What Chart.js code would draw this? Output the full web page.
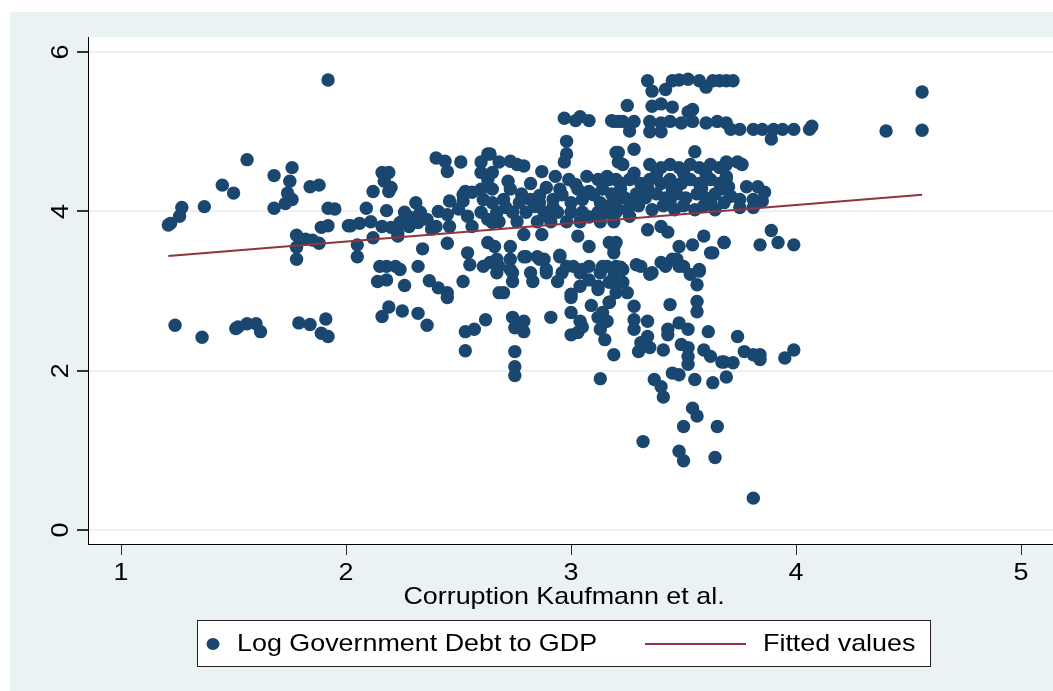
<!DOCTYPE html>
<html>
<head>
<meta charset="utf-8">
<script src="https://cdn.jsdelivr.net/npm/chart.js@4.4.1/dist/chart.umd.min.js"></script>
<style>
  html, body { margin: 0; padding: 0; background: #ffffff; }
  #wrap { width: 1053px; height: 691px; position: relative; }
</style>
</head>
<body>
<div id="wrap"><canvas id="c" width="1053" height="691"></canvas></div>
<script>
// Corruption score (Kaufmann et al.) for each country-year observation
const corruption = [
  1.92,1.56,1.76,1.68,1.75,1.45,1.50,1.84,1.88,1.74,1.76,1.73,1.68,1.27,1.26,1.21,1.22,1.37,1.92,1.95,
  1.89,1.92,2.01,1.78,1.82,1.85,1.88,1.78,1.78,1.24,1.36,1.51,1.52,1.56,1.60,1.62,1.79,1.84,1.91,1.89,1.92,
  2.40,2.44,2.45,2.51,2.16,2.19,2.17,2.19,2.20,2.12,2.09,2.18,2.26,2.31,2.46,2.63,2.60,2.60,2.63,2.65,
  2.02,2.06,2.11,2.16,2.20,2.23,2.28,2.33,2.36,2.41,2.45,2.40,2.46,2.52,2.53,2.56,2.52,2.50,2.54,2.60,
  2.61,2.65,2.60,2.63,2.65,2.56,2.24,2.32,2.38,2.29,
  2.05,2.05,2.12,2.23,2.34,2.45,2.54,2.55,2.61,2.65,2.63,
  2.15,2.18,2.22,2.24,2.14,2.18,2.32,2.26,2.37,2.41,2.45,2.45,2.52,
  2.19,2.16,2.25,2.32,2.36,2.62,2.53,2.57,2.53,2.68,
  2.97,3.02,3.04,3.08,3.18,3.21,2.98,2.98,2.97,3.21,3.21,
  2.64,2.68,2.73,2.76,2.79,2.87,2.93,2.99,3.07,3.12,3.16,3.20,
  2.65,2.73,2.89,2.95,3.03,3.08,3.14,
  2.70,2.77,2.82,2.86,2.92,3.00,3.05,3.13,3.19,
  2.67,2.74,2.80,2.88,2.94,3.00,3.05,3.12,3.16,3.20,
  2.68,2.76,2.85,2.91,2.98,3.04,3.13,3.19,
  2.71,2.84,2.96,3.10,2.78,2.90,3.08,2.72,2.82,3.02,2.86,3.17,2.92,
  2.79,2.87,3.03,3.08,3.17,3.19,2.66,2.73,
  2.67,2.73,2.79,2.85,2.88,2.95,3.01,3.08,3.14,3.20,
  2.67,2.74,2.82,2.89,2.96,3.04,3.13,3.19,
  2.74,2.83,2.94,3.04,3.12,3.20,2.70,3.00,
  3.00,3.09,2.74,2.79,2.75,2.79,2.91,3.00,3.04,3.05,3.00,3.03,3.12,3.14,3.16,3.13,3.15,3.19,2.75,2.75,2.75,3.13,
  2.64,2.68,2.73,2.80,2.86,2.89,2.95,2.98,3.05,3.08,3.12,3.16,3.19,3.17,
  3.34,3.36,3.42,3.45,3.52,3.57,3.60,3.63,3.69,3.66,3.72,3.48,
  3.25,3.36,3.40,3.45,3.54,3.52,
  3.19,3.23,3.28,3.35,3.40,3.44,3.49,3.54,3.60,3.65,3.69,
  3.26,3.35,3.40,3.20,3.28,3.23,3.55,
  3.35,3.40,3.44,3.48,3.53,3.57,3.62,3.66,3.69,
  3.17,3.22,3.26,3.31,3.35,3.40,3.44,3.49,3.53,3.57,3.62,3.66,3.69,
  3.18,3.24,3.29,3.33,3.38,3.42,3.47,3.51,3.56,3.60,3.64,
  3.20,3.25,3.30,3.36,3.41,3.46,3.50,3.55,3.59,3.64,
  3.28,3.38,3.50,3.60,3.22,3.34,3.45,3.58,3.68,3.27,3.44,3.62,
  3.26,3.34,3.40,3.43,3.48,3.54,3.59,3.62,3.68,3.20,3.19,3.22,3.29,3.36,3.42,3.47,3.50,3.57,
  3.63,3.19,3.23,3.31,3.35,3.40,3.45,3.48,3.53,3.57,3.56,3.17,3.23,3.25,3.17,3.28,3.44,3.56,3.56,
  3.28,3.34,3.28,3.34,3.31,3.35,3.30,3.41,3.43,3.43,3.48,3.52,3.61,3.49,3.52,3.52,3.52,3.45,3.48,
  3.59,3.62,3.67,3.69,3.55,3.63,3.37,3.40,3.41,3.54,3.56,3.50,3.65,3.32,3.48,3.50,3.64,
  3.74,3.77,3.81,3.84,3.84,3.95,3.99,3.68,3.72,3.81,
  4.56,4.56,4.40,3.71,3.75,3.81,3.85,3.90,3.94,3.99,4.06,4.07,3.89,
  3.69,3.74,3.76,3.69,3.70,3.78,3.83,3.86,3.85,3.81,3.75,3.71,3.68,3.75,3.81,
  3.89,3.68,3.84,3.92,3.99
];

// Log of government debt to GDP, same order as corruption
const logDebt = [
  5.65,4.65,4.55,4.45,4.38,4.33,4.23,4.31,4.33,4.23,4.15,4.10,4.04,4.05,3.94,3.83,3.85,4.06,4.04,4.03,
  3.80,3.82,3.82,3.70,3.65,3.64,3.60,3.55,3.40,2.57,2.42,2.53,2.55,2.59,2.59,2.49,2.60,2.58,2.65,2.47,2.43,
  4.67,4.63,4.50,4.62,4.49,4.49,4.38,4.25,4.30,4.25,4.04,4.01,3.99,4.11,4.13,4.72,4.62,4.49,4.40,4.49,
  3.82,3.85,3.87,3.81,3.80,3.73,3.81,3.99,3.90,4.00,3.96,3.81,3.81,4.21,4.25,4.24,4.13,4.03,3.94,4.28,
  4.15,4.11,3.99,3.90,3.86,3.81,3.86,3.86,3.78,3.92,
  3.58,3.43,3.67,3.69,3.53,3.60,3.48,3.33,3.31,3.36,3.61,
  3.31,3.31,3.31,3.27,3.12,3.14,3.31,3.07,3.13,3.04,2.98,2.92,3.12,
  2.80,2.68,2.75,2.72,2.57,2.64,2.49,2.52,2.25,2.98,
  5.17,5.14,5.19,5.14,5.14,5.13,4.88,4.72,4.62,4.74,4.62,
  4.72,4.62,4.63,4.59,4.57,4.50,4.44,4.40,4.44,4.40,4.44,4.40,
  4.28,4.28,4.30,4.28,4.28,4.25,4.28,
  4.15,4.11,4.15,4.11,4.15,4.11,4.15,4.11,4.15,
  3.99,3.99,3.99,3.99,3.99,3.99,3.99,3.99,3.99,3.99,
  3.87,3.87,3.87,3.87,3.87,3.87,3.87,3.87,
  4.05,4.06,4.21,4.21,4.22,3.93,3.93,4.38,4.35,4.34,4.20,4.07,4.06,
  3.71,3.71,3.69,3.56,3.61,3.55,3.56,3.56,
  3.40,3.40,3.43,3.43,3.40,3.45,3.31,3.31,3.31,3.31,
  3.23,3.23,3.23,3.23,3.23,3.23,3.23,3.18,
  3.12,3.12,3.12,3.06,3.06,2.98,2.98,2.96,
  2.92,2.82,2.67,2.62,2.54,2.49,2.67,2.73,2.62,2.55,2.45,2.48,2.67,2.73,2.62,2.52,2.39,2.20,2.24,2.05,1.94,1.90,
  3.36,3.31,3.27,3.43,3.40,3.27,3.43,3.31,3.27,3.14,3.02,3.31,3.11,2.86,
  5.64,5.51,5.53,5.64,5.66,5.64,5.56,5.64,5.64,5.64,5.64,5.65,
  5.33,5.32,5.35,5.31,5.28,5.25,
  5.13,5.13,5.13,5.13,5.11,5.13,5.11,5.13,5.11,5.13,5.11,
  5.01,5.00,5.00,4.74,4.78,4.59,4.75,
  4.59,4.55,4.59,4.55,4.59,4.55,4.59,4.55,4.59,
  4.40,4.35,4.40,4.35,4.40,4.35,4.40,4.35,4.40,4.35,4.40,4.35,4.42,
  4.22,4.17,4.22,4.17,4.22,4.17,4.22,4.17,4.22,4.17,4.22,
  4.07,4.02,4.07,4.02,4.07,4.02,4.07,4.02,4.07,4.02,
  4.48,4.47,4.48,4.47,4.28,4.29,4.28,4.29,4.28,4.12,4.12,4.12,
  3.94,3.77,3.81,3.74,3.56,3.58,3.69,3.48,3.61,3.61,3.48,3.30,3.33,3.23,3.31,3.40,3.31,3.27,
  3.48,3.27,3.27,3.31,3.21,3.36,3.40,3.31,3.21,3.25,3.08,3.11,3.11,2.98,2.86,2.81,2.83,2.87,2.74,
  2.64,2.62,2.52,2.43,2.35,2.29,2.24,2.26,2.52,2.45,2.60,2.52,2.49,2.33,2.29,2.18,2.08,1.97,1.95,
  2.26,2.18,2.11,1.92,1.89,1.85,1.89,1.80,1.67,1.53,1.43,1.30,1.30,1.11,0.99,0.87,0.91,
  2.43,2.24,2.20,2.20,2.14,2.16,2.26,2.11,2.10,0.40,
  5.50,5.02,5.01,5.03,5.03,5.03,5.03,5.03,5.03,5.03,5.03,5.07,4.91,
  4.62,4.62,4.59,4.44,4.31,4.31,4.31,4.24,4.13,4.15,4.15,4.19,4.11,4.05,4.05,
  3.76,3.61,3.58,3.61,3.58
];

// Linear fit of logDebt on corruption, evaluated at the sample's end points
const fitCorruption = [1.21, 4.56];
const fitLogDebt = [3.44, 4.21];

const xTicks = [1, 2, 3, 4, 5];
const yTicks = [0, 2, 4, 6];
const xTitle = 'Corruption Kaufmann et al.';
const seriesNames = ['Log Government Debt to GDP', 'Fitted values'];

const NAVY = '#1a476f';
const MAROON = '#90353b';
const PANEL = '#eaf2f3';
const FONT = '"Liberation Sans", Arial, Helvetica, sans-serif';
const TEXT_SIZE = 24;
const TEXT_STRETCH = 1.12;   // wide Stata-style lettering

const scatterPoints = corruption.map((x, i) => ({ x: x, y: logDebt[i] }));
const fitPoints = fitCorruption.map((x, i) => ({ x: x, y: fitLogDebt[i] }));

// text widened horizontally around its anchor
function wideText(ctx, text, x, y, align) {
  ctx.save();
  ctx.translate(x, y);
  ctx.scale(TEXT_STRETCH, 1);
  ctx.textAlign = align;
  ctx.textBaseline = 'middle';
  ctx.fillText(text, 0, 0);
  ctx.restore();
}

// Panel background, tick labels, axis title and boxed legend
const stataDecor = {
  id: 'stataDecor',
  beforeDraw(chart) {
    const ctx = chart.ctx, a = chart.chartArea;
    ctx.save();
    ctx.fillStyle = '#ffffff';
    ctx.fillRect(0, 0, chart.width, chart.height);
    ctx.fillStyle = PANEL;
    ctx.fillRect(10, 12, chart.width - 10, chart.height - 12);
    ctx.fillStyle = '#ffffff';
    ctx.fillRect(a.left, a.top, a.right - a.left, a.bottom - a.top);
    ctx.restore();
  },
  afterDraw(chart) {
    const ctx = chart.ctx;
    const xs = chart.scales.x, ys = chart.scales.y;
    ctx.save();
    ctx.fillStyle = '#000';
    ctx.font = TEXT_SIZE + 'px ' + FONT;

    // y tick labels, rotated to read upwards
    yTicks.forEach(v => {
      const py = ys.getPixelForValue(v);
      ctx.save();
      ctx.translate(61, py);
      ctx.rotate(-Math.PI / 2);
      ctx.scale(TEXT_STRETCH, 1);
      ctx.textAlign = 'center';
      ctx.textBaseline = 'middle';
      ctx.fillText(String(v), 0, 0);
      ctx.restore();
    });

    // x tick labels
    xTicks.forEach(v => wideText(ctx, String(v), xs.getPixelForValue(v), 573, 'center'));

    // x axis title
    wideText(ctx, xTitle, 564, 597, 'center');

    // legend
    const bx = 197, by = 620, bw = 733, bh = 46;
    ctx.fillStyle = '#ffffff';
    ctx.fillRect(bx, by, bw, bh);
    ctx.strokeStyle = '#222';
    ctx.lineWidth = 1;
    ctx.strokeRect(bx + 0.5, by + 0.5, bw, bh);
    const my = by + bh / 2 + 1;
    ctx.fillStyle = NAVY;
    ctx.beginPath();
    ctx.ellipse(213, my, 6.5, 6, 0, 0, Math.PI * 2);
    ctx.fill();
    ctx.fillStyle = '#000';
    wideText(ctx, seriesNames[0], 237, my, 'left');
    ctx.strokeStyle = MAROON;
    ctx.lineWidth = 2;
    ctx.beginPath();
    ctx.moveTo(645, my);
    ctx.lineTo(746, my);
    ctx.stroke();
    wideText(ctx, seriesNames[1], 763, my, 'left');
    ctx.restore();
  }
};

new Chart(document.getElementById('c'), {
  type: 'scatter',
  data: {
    datasets: [
      {
        type: 'line',
        label: seriesNames[1],
        data: fitPoints,
        borderColor: MAROON,
        borderWidth: 2,
        pointRadius: 0,
        fill: false,
        order: 0
      },
      {
        type: 'scatter',
        label: seriesNames[0],
        data: scatterPoints,
        backgroundColor: NAVY,
        borderColor: NAVY,
        borderWidth: 0,
        pointRadius: 6.7,
        order: 1
      }
    ]
  },
  options: {
    responsive: false,
    animation: false,
    devicePixelRatio: 1,
    layout: { autoPadding: false, padding: { left: 10, top: 37, right: 0, bottom: 107 } },
    plugins: { legend: { display: false }, tooltip: { enabled: false } },
    scales: {
      x: {
        type: 'linear',
        min: 0.853,
        max: 5.142,
        afterBuildTicks: s => { s.ticks = xTicks.map(v => ({ value: v })); },
        afterFit: s => { s.height = 40; },
        grid: { drawOnChartArea: false, drawTicks: true, tickLength: 11, tickColor: '#333', lineWidth: 1 },
        border: { display: true, color: '#000', width: 1 },
        ticks: { display: false }
      },
      y: {
        type: 'linear',
        min: -0.176,
        max: 6.19,
        afterBuildTicks: s => { s.ticks = yTicks.map(v => ({ value: v })); },
        afterFit: s => { s.width = 78; },
        grid: { color: PANEL, lineWidth: 2, drawTicks: true, tickLength: 11, tickColor: '#333' },
        border: { display: true, color: '#000', width: 1 },
        ticks: { display: false }
      }
    }
  },
  plugins: [stataDecor]
});
</script>
</body>
</html>
